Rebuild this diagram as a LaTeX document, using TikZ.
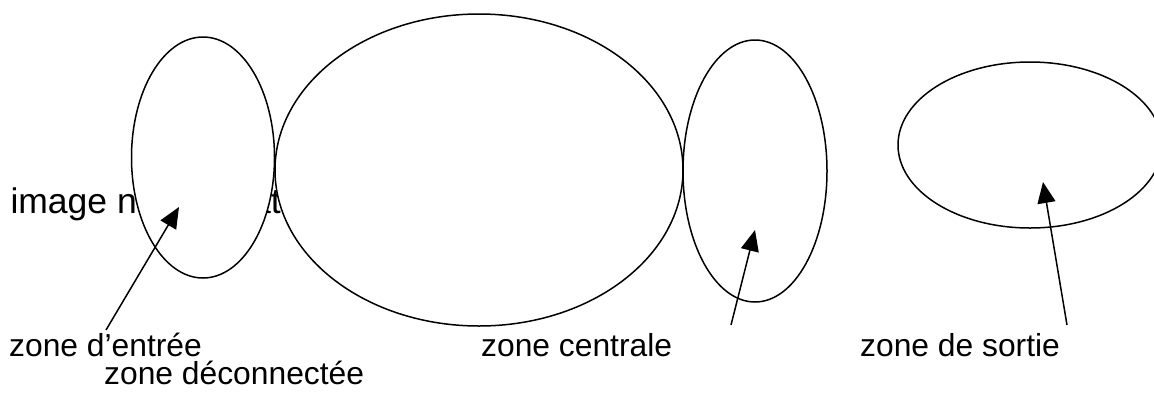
\documentclass[tikz,border=0pt]{standalone}
\usepackage{fontspec}
\setmainfont{Liberation Sans}
\usetikzlibrary{arrows.meta,shapes.geometric}
\begin{document}
\begin{tikzpicture}[x=1pt,y=-1pt,
  zone/.style={ellipse,draw=black,line width=1.5pt,fill=white,inner sep=0pt},
  lbl/.style={anchor=base west,inner sep=0pt,font=\fontsize{31.8}{38}\selectfont},
  arr/.style={line width=1.5pt,-{Triangle[length=21pt,width=18pt]}}]
\useasboundingbox (0,0) rectangle (1154,392);
\node[lbl,font=\fontsize{35.5}{42}\selectfont] (img) at (10.3,213) {image normalisation};
\node[zone,minimum width=143pt,minimum height=241pt] (zin) at (203,157.5) {};
\node[zone,minimum width=408pt,minimum height=312pt] (zc) at (479,170) {};
\node[zone,minimum width=144pt,minimum height=262pt] (zd) at (755,171) {};
\node[zone,minimum width=264pt,minimum height=166pt] (zs) at (1030,145) {};
\node[lbl] (lin) at (9,356) {zone d’entrée};
\node[lbl] (ld) at (104,384) {zone déconnectée};
\node[lbl] (lc) at (481,356) {zone centrale};
\node[lbl] (ls) at (860,356) {zone de sortie};
\coordinate (t1) at (106,330);
\coordinate (h1) at (179,207);
\coordinate (t2) at (731,325);
\coordinate (h2) at (755,230);
\coordinate (t3) at (1067,325);
\coordinate (h3) at (1043,182);
\draw[arr] (t1) -- (h1);
\draw[arr] (t2) -- (h2);
\draw[arr] (t3) -- (h3);
\end{tikzpicture}
\end{document}
